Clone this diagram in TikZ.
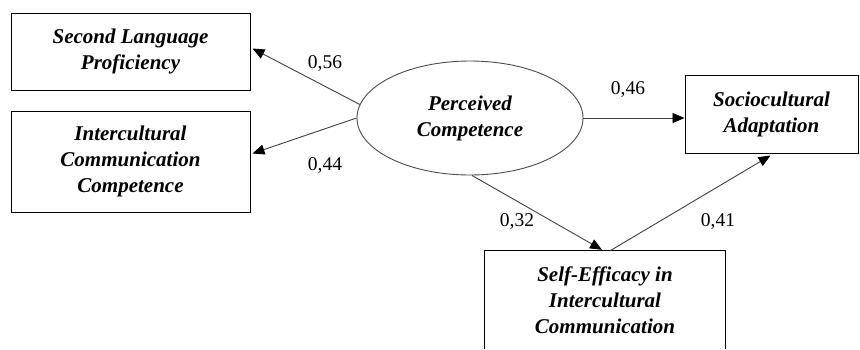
\documentclass[tikz,border=0pt]{standalone}
\usepackage{fontspec}
\setmainfont{Liberation Serif}
\usetikzlibrary{arrows.meta,shapes.geometric,calc}
\begin{document}
\begin{tikzpicture}[x=1pt,y=-1pt,
  boxtxt/.style={font=\fontsize{21}{26}\selectfont\bfseries\itshape, align=center, inner sep=0pt},
  varbox/.style={boxtxt, draw=black, line width=1pt, rectangle},
  latent/.style={boxtxt, draw=black!70, line width=0.9pt, ellipse},
  coef/.style={font=\fontsize{19.5}{22}\selectfont, inner sep=0pt},
  arr/.style={draw=black!75, line width=0.9pt, -{Triangle[length=12pt,width=10pt,color=black]}}]
\useasboundingbox (0,0) rectangle (860,349);
\fill[white] (0,0) rectangle (860,349);

\node[varbox, minimum width=239pt, minimum height=77pt] (slp) at (130.5,51.5) {Second Language\\Proficiency};
\node[varbox, minimum width=239pt, minimum height=101pt] (icc) at (130.5,161.5) {Intercultural\\Communication\\Competence};
\node[latent, minimum width=226pt, minimum height=114pt] (pc) at (470,118) {Perceived\\Competence};
\node[varbox, minimum width=173pt, minimum height=78pt] (sa) at (771.5,114) {Sociocultural\\Adaptation};
\node[boxtxt, rectangle, minimum width=240pt, minimum height=98pt] (se) at (605,300) {Self-Efficacy in\\Intercultural\\Communication};
\draw[black, line width=1pt] (se.south west) -- (se.north west) -- (se.north east) -- (se.south east);

\draw[arr] (pc.173) -- ($(slp.east)+(2,-3)$);
\draw[arr] (pc.west) -- ($(icc.east)+(2,-8)$);
\draw[arr] (pc.east) -- (sa.west |- pc.east);
\draw[arr] ($(pc.south)+(2,0)$) -- ($(se.north)+(-3,-1)$);
\draw[arr] ($(se.north)+(5,0)$) -- ($(sa.south)+(-1,2)$);

\node[coef] (c1) at (325,64) {0,56};
\node[coef] (c2) at (325,166) {0,44};
\node[coef] (c3) at (628,90) {0,46};
\node[coef] (c4) at (517,222) {0,32};
\node[coef] (c5) at (718,222) {0,41};
\end{tikzpicture}
\end{document}
